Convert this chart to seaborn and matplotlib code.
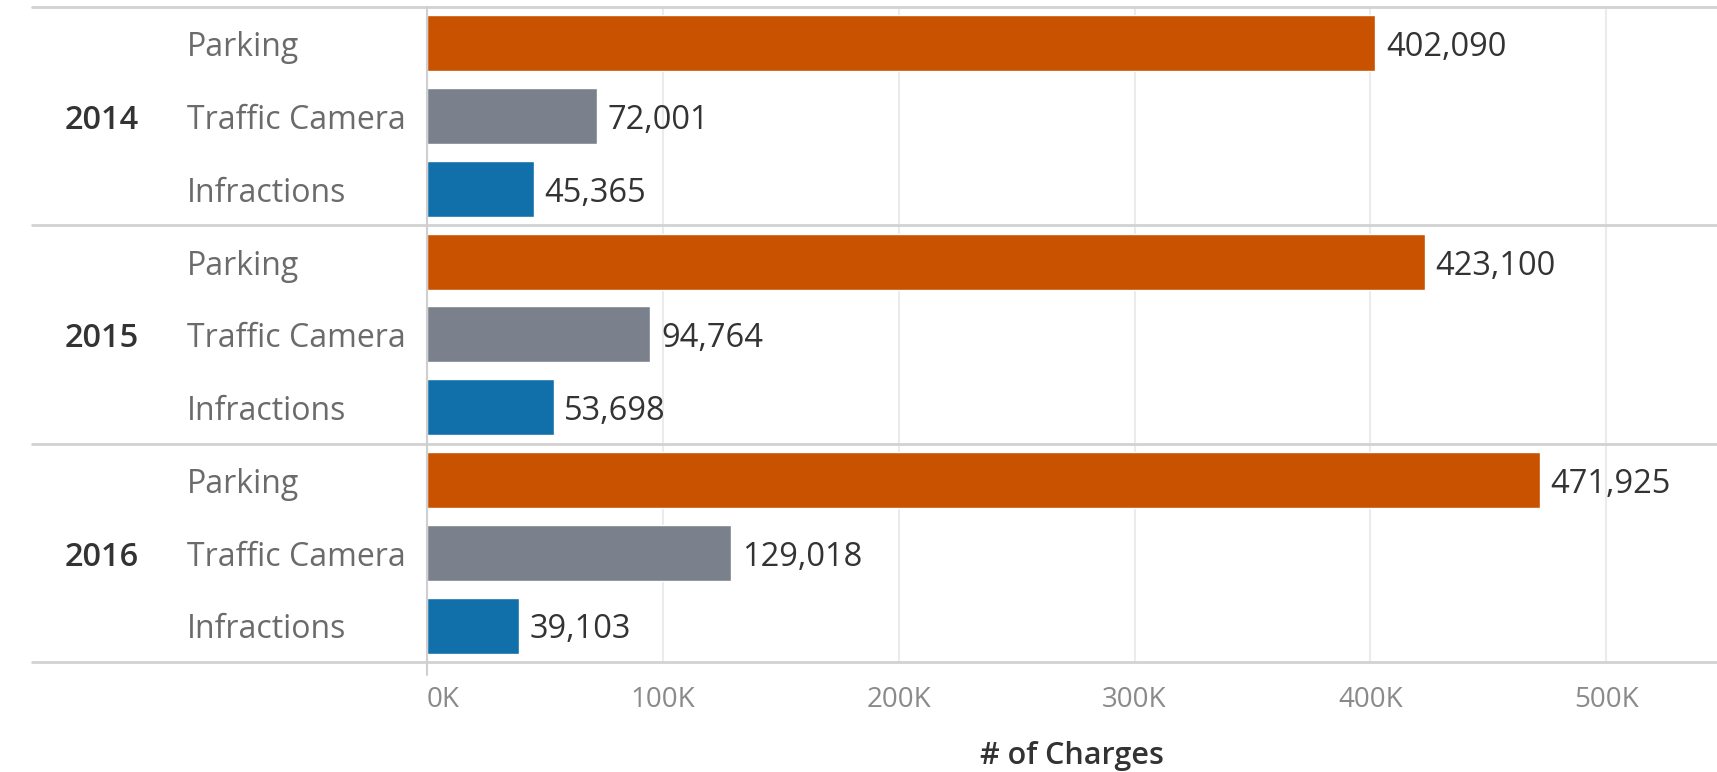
import seaborn as sns
import pandas as pd
import matplotlib.pyplot as plt
from matplotlib.ticker import FuncFormatter

years = ["2014", "2015", "2016"]
types = ["Parking", "Traffic Camera", "Infractions"]
charges_2014 = [402090, 72001, 45365]
charges_2015 = [423100, 94764, 53698]
charges_2016 = [471925, 129018, 39103]
colors = {"Parking": "#c85200", "Traffic Camera": "#7b818c", "Infractions": "#1170aa"}

rows = []
for yr, vals in zip(years, [charges_2014, charges_2015, charges_2016]):
    for t, v in zip(types, vals):
        rows.append({"year": yr, "type": t, "charges": v, "row": yr + " " + t})
df = pd.DataFrame(rows)

sns.set_style("white")
plt.rcParams['font.family'] = ['Open Sans', 'DejaVu Sans']

fig = plt.figure(figsize=(17.17, 7.72), dpi=100)
ax = fig.add_axes([0.2487, 0.1425, 0.7513, 0.8485])

sns.barplot(data=df, x="charges", y="row", hue="type", palette=colors,
            dodge=False, width=0.77, saturation=1, legend=False, ax=ax)

ax.set_xlim(0, 547000)
ax.set_ylim(8.5, -0.5)
ax.set_xticks([0, 100000, 200000, 300000, 400000, 500000])
ax.xaxis.set_major_formatter(FuncFormatter(lambda v, p: f"{int(v/1000)}K"))
ax.grid(axis="x", color="#ebebeb", lw=1.5)
ax.set_axisbelow(True)
for s in ax.spines.values():
    s.set_visible(False)
ax.axvline(0, color="#cfcfcf", lw=1.5, ymin=-0.02, ymax=1, clip_on=False, zorder=5)
ax.tick_params(axis="x", length=14, color="#ebebeb", width=1.5, labelsize=20,
               labelcolor="#8a8a8a", pad=3)
ax.tick_params(axis="y", length=0)
ax.get_xticklabels()[0].set_horizontalalignment("left")

# type labels and year labels on the left, values at bar ends
ax.set_yticks(range(len(df)))
ax.set_yticklabels([])
ax.set_ylabel("")
dy = 0.06
for i, r in df.iterrows():
    ax.text(-0.186, i + dy, r["type"], transform=ax.get_yaxis_transform(),
            ha="left", va="center", fontsize=23, color="#6b6b6b")
    ax.text(r["charges"] + 4500, i + dy, f"{r['charges']:,}", ha="left", va="center",
            fontsize=23.5, color="#333333")
for k, yr in enumerate(years):
    ax.text(-0.281, 3 * k + 1 + dy, yr, transform=ax.get_yaxis_transform(),
            ha="left", va="center", fontsize=23.5, color="#333333", fontweight="semibold")

# group separators
for yy in [-0.5, 2.5, 5.5, 8.5]:
    ax.plot([-0.306, 1], [yy, yy], transform=ax.get_yaxis_transform(),
            color="#d2d2d2", lw=2, clip_on=False, zorder=4)

ax.set_xlabel("# of Charges", fontsize=22, color="#333333", fontweight="semibold", labelpad=20)

fig.savefig("out.png", dpi=100)
